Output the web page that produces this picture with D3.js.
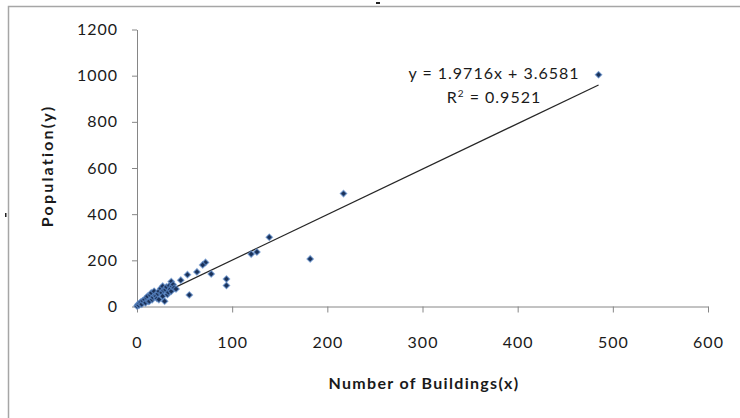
<!DOCTYPE html>
<html>
<head>
<meta charset="utf-8">
<script src="https://cdn.jsdelivr.net/npm/d3@7/dist/d3.min.js"></script>
<style>
  html, body { margin: 0; padding: 0; background: #fff; }
  svg { display: block; }
  text { font-family: Lato, "Open Sans", sans-serif; fill: #1a1a1a; }
</style>
</head>
<body>
<svg id="chart" width="740" height="418"></svg>
<script>
// Number of buildings (x) and population (y) per area
const buildings = [485, 217, 182, 139, 126, 120, 94, 94, 78, 72, 69, 63, 55, 53, 46, 36,
  0, 1, 2, 3, 4, 5, 6, 8, 9, 10, 11, 12, 13, 14, 15, 16, 17, 18, 19, 20, 21, 22, 23, 23,
  25, 26, 27, 27, 28, 29, 30, 31, 32, 33, 34, 35, 36, 37, 38, 39, 41];
const population = [1004, 489, 206, 300, 236, 227, 119, 91, 141, 191, 180, 150, 50, 138, 114, 108,
  2, 9, 5, 14, 19, 10, 25, 30, 16, 38, 44, 22, 23, 50, 59, 30, 40, 66, 48, 44, 35, 55, 66, 30,
  78, 60, 88, 44, 70, 23, 73, 85, 52, 62, 90, 75, 66, 88, 95, 80, 76];

// Linear trendline fitted to the data
const slope = 1.9716;
const intercept = 3.6581;
const rSquared = 0.9521;

const xTicks = [0, 100, 200, 300, 400, 500, 600];
const yTicks = [0, 200, 400, 600, 800, 1000, 1200];

const xTitle = "Number of Buildings(x)";
const yTitle = "Population(y)";

const svg = d3.select("#chart");

const x = d3.scaleLinear().domain([0, 600]).range([137, 708]);
const y = d3.scaleLinear().domain([0, 1200]).range([306.5, 29.5]);

// Chart area frame (left and top edges)
svg.append("path")
  .attr("d", "M8.5,420 L8.5,6.5 L742,6.5")
  .attr("fill", "none")
  .attr("stroke", "#a6a6a6")
  .attr("stroke-width", 1.5);

// Small stray marks outside the frame
svg.append("rect").attr("x", 376).attr("y", 2).attr("width", 4).attr("height", 2).attr("fill", "#222");
svg.append("rect").attr("x", 5).attr("y", 213).attr("width", 1.5).attr("height", 4).attr("fill", "#222");

const axisColor = "#868686";

// X axis
const gx = svg.append("g")
  .attr("transform", `translate(0,${y(0)})`)
  .call(d3.axisBottom(x).tickValues(xTicks).tickFormat(d3.format("d"))
    .tickSize(6).tickSizeOuter(0).tickPadding(24));
gx.select(".domain").attr("stroke", axisColor);
gx.selectAll(".tick line").attr("stroke", axisColor);
gx.selectAll(".tick text")
  .style("font-size", "16px").style("letter-spacing", "1px")
  .attr("fill", "#1a1a1a");

// Y axis
const gy = svg.append("g")
  .attr("transform", `translate(${x(0)},0)`)
  .call(d3.axisLeft(y).tickValues(yTicks).tickFormat(d3.format("d"))
    .tickSize(5).tickSizeOuter(0).tickPadding(14));
gy.select(".domain").attr("stroke", axisColor);
gy.selectAll(".tick line").attr("stroke", axisColor);
gy.selectAll(".tick text")
  .style("font-size", "16px").style("letter-spacing", "1px")
  .attr("fill", "#1a1a1a");

// Axis titles
svg.append("text")
  .attr("x", 424).attr("y", 389)
  .attr("text-anchor", "middle")
  .style("font-size", "16px").style("font-weight", "bold").style("letter-spacing", "1.3px")
  .text(xTitle);

svg.append("text")
  .attr("transform", `translate(53,166) rotate(-90)`)
  .attr("text-anchor", "middle")
  .style("font-size", "16px").style("font-weight", "bold").style("letter-spacing", "2.2px")
  .text(yTitle);

// Trendline across the observed x range
const xMin = d3.min(buildings), xMax = d3.max(buildings);
svg.append("line")
  .attr("x1", x(xMin)).attr("y1", y(slope * xMin + intercept))
  .attr("x2", x(xMax)).attr("y2", y(slope * xMax + intercept))
  .attr("stroke", "#262626")
  .attr("stroke-width", 1.2);

// Data points as diamonds
const diamond = d3.symbol().type(d3.symbolSquare).size(20);
svg.append("g").selectAll("path")
  .data(buildings.map((b, i) => ({ b, p: population[i] })))
  .join("path")
  .attr("d", diamond)
  .attr("transform", d => `translate(${x(d.b)},${y(d.p)}) rotate(45)`)
  .attr("fill", "#1a3158")
  .attr("stroke", "#5e8ccb")
  .attr("stroke-opacity", 0.65)
  .attr("stroke-width", 1.3);

// Equation and R² labels
svg.append("text")
  .attr("x", 494).attr("y", 79)
  .attr("text-anchor", "middle")
  .style("font-size", "16px").style("letter-spacing", "1px")
  .text(`y = ${slope}x + ${intercept}`);

const r2 = svg.append("text")
  .attr("x", 494).attr("y", 103)
  .attr("text-anchor", "middle")
  .style("font-size", "16px").style("letter-spacing", "1px");
r2.append("tspan").text("R");
r2.append("tspan").attr("dy", -6).style("font-size", "10px").text("2");
r2.append("tspan").attr("dy", 6).text(` = ${rSquared}`);
</script>
</body>
</html>
